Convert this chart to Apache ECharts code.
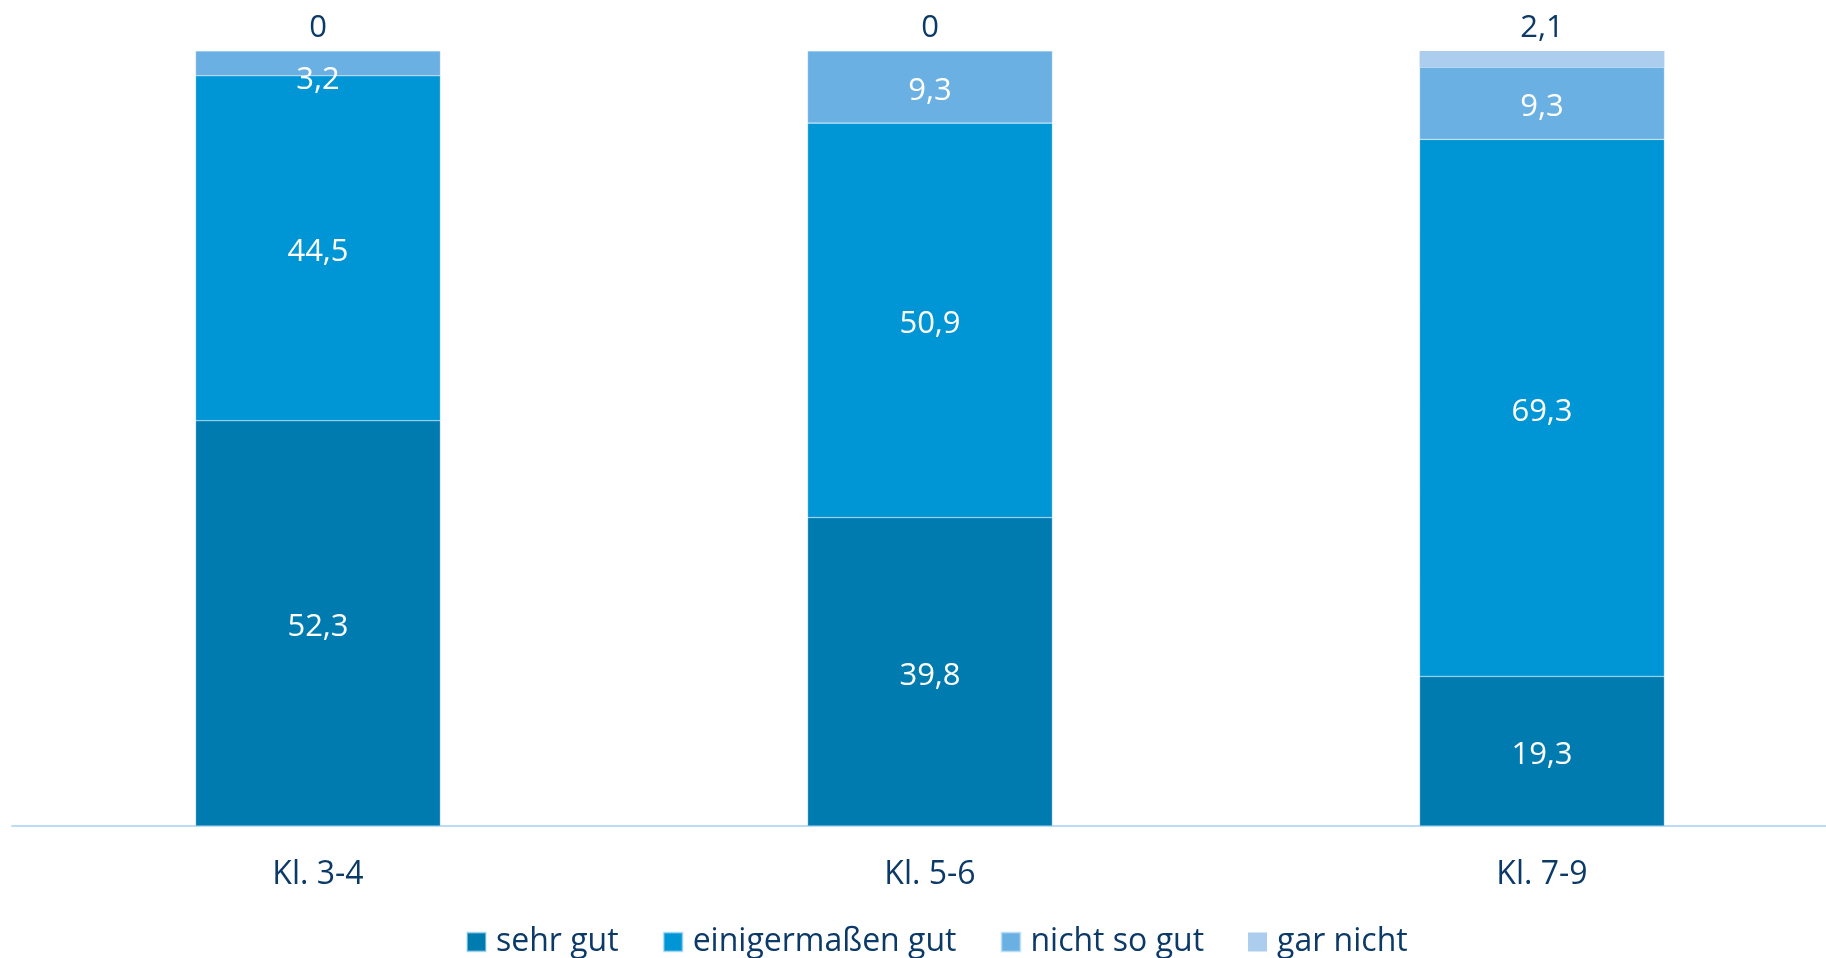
<!DOCTYPE html>
<html>
<head>
<meta charset="utf-8">
<script src="https://cdn.jsdelivr.net/npm/echarts@6/dist/echarts.min.js"></script>
<style>
  html, body { margin: 0; padding: 0; background: #ffffff; overflow: hidden; }
  /* the plot runs a little past the right edge of the page */
  #chart { width: 1848px; height: 958px; }
</style>
</head>
<body>
<div id="chart"></div>
<script>
// Klassenstufen
const categories = ['Kl. 3-4', 'Kl. 5-6', 'Kl. 7-9'];

// Anteile in Prozent je Antwortkategorie
const sehrGut = [52.3, 39.8, 19.3];
const einigermassenGut = [44.5, 50.9, 69.3];
const nichtSoGut = [3.2, 9.3, 9.3];
const garNicht = [0, 0, 2.1];

const seriesNames = ['sehr gut', 'einigermaßen gut', 'nicht so gut', 'gar nicht'];
const seriesColors = ['#007bb0', '#0095d4', '#6ab0e3', '#adcdef'];

const navy = '#0c3a68';
const font = '"Open Sans", "Noto Sans", sans-serif';

const fmt = v => String(v).replace('.', ',');

function innerSeries(name, values, color) {
  return {
    name: name,
    type: 'bar',
    stack: 'total',
    barWidth: '40%',
    itemStyle: { color: color, borderColor: 'rgba(190,225,250,0.55)', borderWidth: 0.6 },
    label: {
      show: true,
      position: 'inside',
      offset: [0, 4],
      color: '#ffffff',
      fontFamily: font,
      fontSize: 31,
      formatter: p => fmt(p.value)
    },
    // very thin segments get their label nudged down so it stays readable
    data: values.map(v => v < 5 ? { value: v, label: { offset: [0, 17] } } : v)
  };
}

const series = [
  innerSeries(seriesNames[0], sehrGut, seriesColors[0]),
  innerSeries(seriesNames[1], einigermassenGut, seriesColors[1]),
  innerSeries(seriesNames[2], nichtSoGut, seriesColors[2]),
  {
    name: seriesNames[3],
    type: 'bar',
    stack: 'total',
    barWidth: '40%',
    itemStyle: { color: seriesColors[3] },
    label: {
      show: true,
      position: 'top',
      distance: 7,
      color: navy,
      fontFamily: font,
      fontSize: 31,
      formatter: p => fmt(p.value)
    },
    data: garNicht
  }
];

const chart = echarts.init(document.getElementById('chart'), null, { renderer: 'canvas' });
chart.setOption({
  animation: false,
  backgroundColor: '#ffffff',
  textStyle: { fontFamily: font },
  grid: { left: 12, top: 51, width: 1836, height: 775, containLabel: false },
  legend: {
    data: seriesNames,
    left: 461,
    top: 921,
    itemWidth: 19,
    itemHeight: 19,
    itemGap: 44,
    icon: 'rect',
    textStyle: { color: navy, fontSize: 32, fontFamily: font, padding: [0, 0, 0, 5] }
  },
  xAxis: {
    type: 'category',
    data: categories,
    axisLine: { show: true, lineStyle: { color: '#bcdcf6', width: 2 } },
    axisTick: { show: false },
    axisLabel: { color: navy, fontSize: 32, fontFamily: font, margin: 33 }
  },
  yAxis: {
    type: 'value',
    min: 0,
    max: 100,
    show: false,
    splitLine: { show: false }
  },
  series: series
});
</script>
</body>
</html>
